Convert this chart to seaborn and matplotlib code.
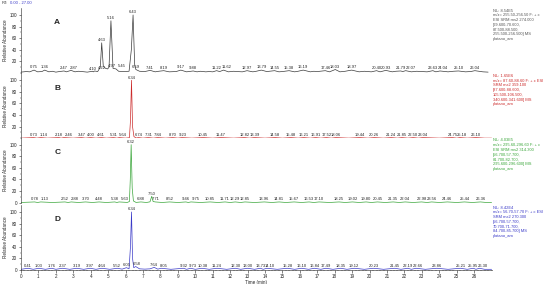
import numpy as np
import matplotlib
matplotlib.use("Agg")
import matplotlib.pyplot as plt
import seaborn as sns

sns.set_style("ticks")
plt.rcParams['font.family'] = ['Liberation Sans', 'DejaVu Sans']

# ---- panel A (black trace) ----
a_time = [0, 0.3, 0.5, 0.75, 0.95, 1.2, 1.36, 1.6, 1.8, 2.0, 2.2, 2.47, 2.6, 2.87, 3.1, 3.3, 3.5, 3.8,
          4.10, 4.16, 4.22, 4.40, 4.55, 4.63, 4.72, 4.85, 4.97, 5.05, 5.16, 5.28, 5.45, 5.60, 5.9, 6.2,
          6.33, 6.43, 6.52, 6.59, 6.8, 7.1, 7.41, 7.7, 7.9, 8.19, 8.5, 8.9, 9.17, 9.5, 9.88, 10.1, 10.3,
          10.6, 10.8, 11.0, 11.22, 11.4, 11.62, 11.9, 12.2, 12.4, 12.7, 12.97, 13.3, 13.5, 13.79, 14.1,
          14.55, 14.8, 15.0, 15.38, 15.7, 15.9, 16.19, 16.6, 16.8, 17.0, 17.46, 17.7, 18.03, 18.3, 18.6,
          18.97, 19.4, 19.7, 19.9, 20.1, 20.40, 20.6, 20.93, 21.3, 21.5, 21.79, 21.9, 22.07, 22.4, 22.7,
          23.0, 23.3, 23.63, 23.8, 24.04, 24.5, 24.8, 25.10, 25.5, 25.8, 26.04, 26.5, 26.8]
a_int = [1.5, 2.5, 2, 5, 2, 2.5, 5, 2, 3, 1.5, 2.5, 3.5, 2, 4.5, 2, 3, 2.5, 1.5,
         3, 2, 3.5, 2.5, 10, 52, 12, 8, 7, 10, 90, 8, 7, 3, 2.5, 3,
         40, 100, 15, 6, 3, 2.5, 4.5, 2, 3, 4, 2, 2.5, 5, 2, 3.5, 2, 3,
         2, 2.5, 2, 4, 2.5, 5, 2, 3, 2.5, 2, 4, 2, 3, 5, 2.5,
         4, 2, 2.5, 4, 2, 3, 5, 2, 3, 2.5, 4, 2, 6, 2, 3,
         5, 2, 3, 2.5, 2, 4, 2, 4.5, 2, 3, 3.5, 2.5, 4, 2, 3,
         2.5, 2, 4, 2, 3.5, 2, 3, 3.5, 2, 2.5, 4, 2, 1.5]
a_peaks = [0.75, 1.36, 2.47, 2.87, 4.10, 4.22, 4.63, 4.97, 5.16, 5.45, 6.43, 6.59, 7.41, 8.19, 9.17,
           9.88, 11.22, 11.62, 12.97, 13.79, 14.55, 15.38, 16.19, 17.46, 18.03, 18.97, 20.40, 20.93,
           21.79, 22.07, 23.63, 24.04, 25.10, 26.04]

# ---- panel B (red trace) ----
b_time = [0, 0.73, 0.9, 1.14, 1.5, 2.18, 2.3, 2.46, 3.0, 3.47, 3.7, 4.00, 4.3, 4.61, 4.9, 5.31, 5.5,
          5.64, 6.0, 6.22, 6.28, 6.34, 6.40, 6.48, 6.6, 6.74, 7.0, 7.31, 7.6, 7.84, 8.3, 8.70, 9.0,
          9.23, 9.8, 10.45, 11.0, 11.47, 12.2, 12.82, 13.1, 13.39, 14.0, 14.58, 15.0, 15.48, 15.9,
          16.21, 16.6, 16.91, 17.2, 17.52, 17.8, 18.06, 18.8, 19.44, 19.9, 20.26, 20.8, 21.24, 21.6,
          21.85, 22.2, 22.50, 22.8, 23.04, 24.0, 24.75, 25.0, 25.18, 25.6, 26.10, 26.6, 27.0]
b_int = [0.3, 1.2, 0.3, 1.2, 0.3, 1.2, 0.3, 1.2, 0.3, 1.2, 0.3, 1.2, 0.3, 1.2, 0.3, 1.2, 0.3,
         1.2, 0.3, 1.0, 30, 100, 20, 3, 0.5, 1.2, 0.3, 1.2, 0.3, 1.2, 0.3, 1.2, 0.3,
         1.2, 0.3, 1.2, 0.3, 1.2, 0.3, 1.2, 0.3, 1.2, 0.3, 1.2, 0.3, 1.2, 0.3,
         1.2, 0.3, 1.2, 0.3, 1.2, 0.3, 1.2, 0.3, 1.2, 0.3, 1.2, 0.3, 1.2, 0.3,
         1.2, 0.3, 1.2, 0.3, 1.2, 0.3, 1.2, 0.3, 1.2, 0.3, 1.2, 0.3, 0.3]
b_peaks = [0.73, 1.14, 2.18, 2.46, 3.47, 4.00, 4.61, 5.31, 5.64, 6.34, 6.74, 7.31, 7.84, 8.70, 9.23,
           10.45, 11.47, 12.82, 13.39, 14.58, 15.48, 16.21, 16.91, 17.52, 18.06, 19.44, 20.26, 21.24,
           21.85, 22.50, 23.04, 24.75, 25.18, 26.10]

# ---- panel C (green trace) ----
c_time = [0, 0.78, 0.95, 1.13, 1.8, 2.52, 2.7, 2.88, 3.3, 3.70, 4.1, 4.48, 4.9, 5.38, 5.5, 5.63, 6.1,
          6.22, 6.27, 6.32, 6.38, 6.45, 6.6, 6.88, 7.2, 7.40, 7.50, 7.58, 7.71, 8.1, 8.52, 9.0, 9.46,
          9.6, 9.75, 10.3, 10.85, 11.3, 11.71, 12.0, 12.29, 12.6, 12.85, 13.4, 13.96, 14.4, 14.81,
          15.2, 15.67, 16.1, 16.53, 16.8, 17.10, 17.7, 18.25, 18.6, 19.02, 19.4, 19.80, 20.1, 20.45,
          20.9, 21.35, 21.7, 22.04, 22.5, 22.98, 23.3, 23.56, 24.0, 24.46, 25.0, 25.44, 25.9, 26.36,
          26.7, 27.0]
c_int = [0.4, 1.3, 0.4, 1.3, 0.4, 1.3, 0.4, 1.3, 0.4, 1.3, 0.4, 1.3, 0.4, 1.3, 0.4, 1.3, 0.5,
         2, 40, 100, 25, 3, 0.5, 1.3, 0.4, 1.5, 11, 2, 1.3, 0.4, 1.3, 0.4, 1.3,
         0.4, 1.3, 0.4, 1.3, 0.4, 1.3, 0.4, 1.3, 0.4, 1.3, 0.4, 1.3, 0.4, 1.3,
         0.4, 1.3, 0.4, 1.3, 0.4, 1.3, 0.4, 1.3, 0.4, 1.3, 0.4, 1.3, 0.4, 1.3,
         0.4, 1.3, 0.4, 1.3, 0.4, 1.3, 0.4, 1.3, 0.4, 1.3, 0.4, 1.3, 0.4, 1.3,
         0.4, 0.4]
c_peaks = [0.78, 1.13, 2.52, 2.88, 3.70, 4.48, 5.38, 5.63, 6.32, 6.88, 7.50, 7.71, 8.52, 9.46, 9.75,
           10.85, 11.71, 12.29, 12.85, 13.96, 14.81, 15.67, 16.53, 17.10, 18.25, 19.02, 19.80, 20.45,
           21.35, 22.04, 22.98, 23.56, 24.46, 25.44, 26.36]

# ---- panel D (blue trace) ----
d_time = [0, 0.41, 0.7, 1.03, 1.4, 1.76, 2.0, 2.37, 2.8, 3.19, 3.6, 3.97, 4.3, 4.64, 5.1, 5.52, 5.8,
          6.05, 6.2, 6.28, 6.34, 6.40, 6.47, 6.58, 6.8, 7.1, 7.4, 7.64, 7.85, 8.05, 8.6, 9.32, 9.5,
          9.73, 10.0, 10.38, 10.8, 11.24, 11.8, 12.30, 12.6, 13.00, 13.4, 13.73, 13.9, 14.10, 14.7,
          15.28, 15.7, 16.10, 16.5, 16.84, 17.2, 17.49, 17.9, 18.35, 18.7, 19.12, 19.7, 20.23, 20.8,
          21.45, 21.8, 22.19, 22.4, 22.66, 23.2, 23.86, 24.5, 25.21, 25.6, 25.95, 26.1, 26.30, 26.6, 27.0]
d_int = [1.2, 3, 1.2, 3, 1.2, 3, 1.2, 3, 1.2, 3, 1.2, 3, 1.2, 3, 1.2, 3, 1.5,
         4, 2, 40, 100, 20, 4, 6, 2, 1.5, 2, 4.5, 1.5, 3, 1.2, 3, 1.2,
         3, 1.2, 3, 1.2, 3, 1.2, 3, 1.2, 3, 1.2, 3, 1.2, 3, 1.2,
         3, 1.2, 3, 1.2, 3, 1.2, 3, 1.2, 3, 1.2, 3, 1.2, 3, 1.2,
         3, 1.2, 3, 1.2, 3, 1.2, 3, 1.2, 3, 1.2, 3, 1.2, 3, 1.2, 1.2]
d_peaks = [0.41, 1.03, 1.76, 2.37, 3.19, 3.97, 4.64, 5.52, 6.05, 6.34, 6.58, 7.64, 8.05, 9.32, 9.73,
           10.38, 11.24, 12.30, 13.00, 13.73, 14.10, 15.28, 16.10, 16.84, 17.49, 18.35, 19.12, 20.23,
           21.45, 22.19, 22.66, 23.86, 25.21, 25.95, 26.30]

panel_letters = ["A", "B", "C", "D"]
panel_colors = ["#3a3a3a", "#cc2b2b", "#3aa63a", "#3a3ac8"]
panel_notes = [
    "NL: 8.54E5\nm/z= 255.50-256.50 F: + c\nESI SRM ms2 274.000\n[69.600-70.600,\n87.500-88.500,\n255.500-256.500] MS\nplatano_am",
    "NL: 1.65E6\nm/z= 87.60-88.60 F: + c ESI\nSRM ms2 359.100\n[87.600-88.600,\n105.500-106.500,\n340.600-341.600] MS\nplatano_am",
    "NL: 4.03E5\nm/z= 295.60-296.60 F: + c\nESI SRM ms2 314.300\n[56.700-57.700,\n81.700-82.700,\n295.600-296.600] MS\nplatano_am",
    "NL: 8.42E4\nm/z= 56.70-57.70 F: + c ESI\nSRM ms2 270.300\n[56.700-57.700,\n70.700-71.700,\n84.700-85.700] MS\nplatano_am",
]
traces = [(a_time, a_int, a_peaks), (b_time, b_int, b_peaks),
          (c_time, c_int, c_peaks), (d_time, d_int, d_peaks)]

fig = plt.figure(figsize=(5.5, 2.84), dpi=100)
W, H = 550.0, 284.0
x0, x1 = 21.0, 491.6
baselines = [73.0, 138.3, 202.7, 270.0]
ax_h = 65.0
label_gap = 0.56  # minutes between neighbouring low labels

for i, (t, y, pk) in enumerate(traces):
    ax = fig.add_axes([x0 / W, 1 - baselines[i] / H, (x1 - x0) / W, ax_h / H])
    sns.lineplot(x=t, y=y, ax=ax, color=panel_colors[i], linewidth=0.5,
                 estimator=None, sort=False)
    ax.set_xlim(0, 27)
    ax.set_ylim(0, 112)
    sns.despine(ax=ax, bottom=(i < 3))
    ax.set_yticks([0, 20, 40, 60, 80, 100] if i >= 2 else [20, 40, 60, 80, 100])
    ax.set_yticks(np.arange(0, 101, 10), minor=True)
    ax.tick_params(axis='y', which='major', labelsize=3.3, length=1.8, width=0.4, pad=1)
    ax.tick_params(axis='y', which='minor', length=1.0, width=0.3)
    ax.spines['left'].set_linewidth(0.4)
    ax.set_ylabel("Relative Abundance", fontsize=3.3, labelpad=1.5)
    if i < 3:
        ax.set_xticks([])
    else:
        ax.set_xticks(np.arange(0, 27, 1))
        ax.set_xticks(np.arange(0, 27.01, 0.2), minor=True)
        ax.tick_params(axis='x', which='major', labelsize=3.3, length=1.8, width=0.4, pad=1)
        ax.tick_params(axis='x', which='minor', length=0.9, width=0.3)
        ax.spines['bottom'].set_linewidth(0.4)
        ax.set_xlabel("Time (min)", fontsize=3.3, labelpad=1)
    ax.set_facecolor("none")
    # peak labels, pushed right when two low labels would collide
    placed = []
    for p in pk:
        h = np.interp(p, t, y)
        lx = p
        for px, ph in placed:
            if abs(ph - h) < 8 and lx < px + label_gap:
                lx = px + label_gap
        placed.append((lx, h))
        ax.text(lx, h + 1.2, f"{p:.2f}", fontsize=3.0, ha='center', va='bottom', color="#222222",
                clip_on=False)
    ax.text(0.077, 0.77, panel_letters[i], transform=ax.transAxes, fontsize=6,
            fontweight='bold', ha='center', va='center')
    ax.text(1.003, 0.99, panel_notes[i], transform=ax.transAxes, fontsize=2.9,
            ha='left', va='top', color=panel_colors[i] if i > 0 else "#555555",
            linespacing=1.25, clip_on=False)

fig.text(2 / W, 1 - 3 / H, "RT:", fontsize=3.0, ha='left', va='center', color="#333333")
fig.text(10 / W, 1 - 3 / H, "0.00 - 27.00", fontsize=3.0, ha='left', va='center', color="#3a3ac8")

fig.savefig("out.png", dpi=100)
